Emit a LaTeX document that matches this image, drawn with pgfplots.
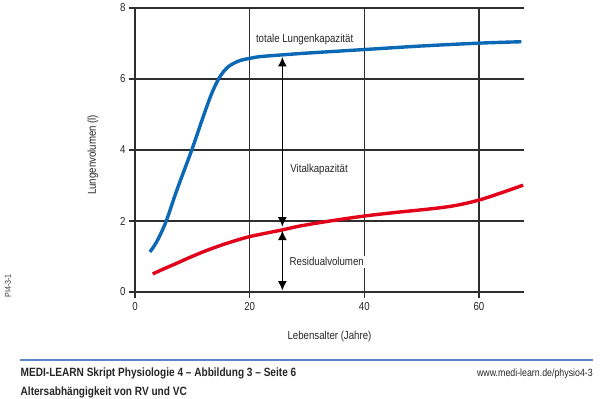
\documentclass[border=0pt]{standalone}
\usepackage{fontspec}
\setmainfont{Liberation Sans}[FakeStretch=0.84]
\usepackage{pgfplots}
\pgfplotsset{compat=1.18}
\usetikzlibrary{arrows.meta}
\definecolor{lblue}{HTML}{0A68B4}
\definecolor{lred}{HTML}{E2001A}
\definecolor{gridc}{HTML}{2E2E2E}
\definecolor{footc}{HTML}{5A88C6}
\begin{document}
\begin{tikzpicture}[x=1pt,y=1pt]
\path[use as bounding box] (0,0) rectangle (600,-399);
\begin{axis}[
  at={(135pt,-292pt)}, anchor=south west,
  scale only axis, width=389pt, height=284pt,
  xmin=0, xmax=67.85, ymin=0, ymax=8,
  xtick={0,20,40,60}, ytick={0,2,4,6,8},
  xtick pos=bottom, ytick pos=left,
  tick align=outside, major tick length=6pt,
  grid=major,
  major grid style={gridc, line width=1.2pt},
  tick style={gridc, line width=1.2pt},
  axis line style={draw=none},
  /pgf/number format/assume math mode=true,
  tick label style={font=\fontsize{11.5}{13}\selectfont, text=black!85},
  xticklabel style={yshift=-1pt},
  yticklabel style={xshift=0pt},
  xlabel={Lebensalter (Jahre)},
  ylabel={Lungenvolumen (l)},
  label style={font=\fontsize{11.5}{13}\selectfont, text=black!85},
  xlabel style={at={(axis description cs:0.5,-0.158)}, anchor=center},
  ylabel style={at={(axis description cs:-0.108,0.483)}, anchor=center},
  clip=false,
]
\addplot[lblue, line width=3.4pt, smooth, tension=0.55] coordinates {
(2.6,1.13) (3.8,1.42) (5.4,1.98) (7.3,2.87) (9.9,4.00) (11.9,4.94) (13.4,5.60) (14.8,6.06) (16.3,6.35) (18.3,6.52) (20,6.58) (21.8,6.63) (25.7,6.68) (30,6.73) (40,6.83) (50,6.93) (60,7.01) (67.4,7.05)
};
\addplot[lred, line width=3.4pt, smooth, tension=0.55] coordinates {
(3.1,0.51) (5,0.65) (7,0.79) (9.5,0.97) (12.5,1.17) (16,1.37) (20,1.56) (25.7,1.75) (28.8,1.86) (34,2.00) (40,2.14) (46,2.25) (52,2.35) (56,2.44) (60,2.59) (64,2.80) (67.7,3.01)
};
\draw[{Latex[length=9.5pt,width=9pt]}-{Latex[length=9.5pt,width=9pt]}, line width=1.4pt, black]
  (axis cs:25.7,1.84) -- (axis cs:25.7,6.62);
\draw[{Latex[length=9.5pt,width=9pt]}-{Latex[length=9.5pt,width=9pt]}, line width=1.4pt, black]
  (axis cs:25.7,0.04) -- (axis cs:25.7,1.73);
\node[anchor=west, font=\fontsize{11.5}{13}\selectfont, text=black!85, inner sep=1pt] at (axis cs:20.9,7.1) {totale Lungenkapazität};
\node[anchor=west, font=\fontsize{11.5}{13}\selectfont, text=black!85, inner sep=1pt] at (axis cs:26.9,3.44) {Vitalkapazität};
\node[anchor=west, font=\fontsize{11.5}{13}\selectfont, text=black!85, fill=white, inner sep=2pt] at (axis cs:26.6,0.85) {Residualvolumen};
\end{axis}
\node[rotate=90, font=\fontsize{8.5}{9}\selectfont, text=black!80] at (8,-286) {PI4-3-1};
\draw[footc, line width=2pt] (20,-359.5) -- (593,-359.5);
\node[anchor=west, inner sep=0pt, font=\fontsize{12}{13}\selectfont\bfseries, text=black!85] at (20.5,-373.5) {MEDI-LEARN Skript Physiologie 4 – Abbildung 3 – Seite 6};
\node[anchor=west, inner sep=0pt, font=\fontsize{12}{13}\selectfont\bfseries, text=black!85] at (20.5,-392) {Altersabhängigkeit von RV und VC};
\node[anchor=east, inner sep=0pt, font=\fontsize{10.5}{11}\selectfont, text=black!85] at (593,-374) {www.medi-learn.de/physio4-3};
\end{tikzpicture}
\end{document}
